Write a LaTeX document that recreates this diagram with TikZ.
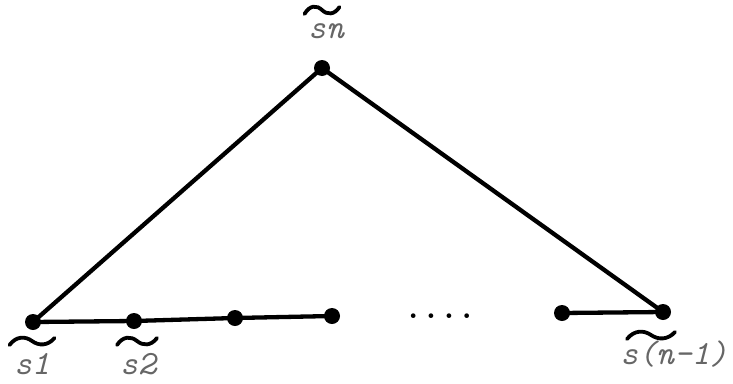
\documentclass[tikz,border=0pt]{standalone}
\usepackage{fontspec}
\begin{document}
\begin{tikzpicture}[x=1pt,y=-1pt,
  vtx/.style={circle,fill=black,inner sep=0pt,minimum size=16pt},
  edge/.style={line width=4.3pt},
  lab/.style={text=black!60,font=\ttfamily\itshape\fontsize{34}{36}\selectfont,inner sep=0pt,anchor=base},
  pics/tild/.style={code={\draw[line width=3.8pt,line cap=round] (-0.5,0.4) .. controls (-0.35,-0.5) and (-0.15,-0.5) .. (0,0) .. controls (0.15,0.5) and (0.35,0.5) .. (0.5,-0.3);}}]
\useasboundingbox (0,0) rectangle (733,383);
\node[vtx] (sn) at (322,68) {};
\node[vtx] (s1) at (33,322) {};
\node[vtx] (s2) at (134,321) {};
\node[vtx] (s3) at (235,318) {};
\node[vtx] (s4) at (332,316) {};
\node[vtx] (s5) at (562,313) {};
\node[vtx] (sm) at (663,312) {};
\draw[edge] (s1.center) -- (sn.center) -- (sm.center);
\draw[edge] (s1.center) -- (s2.center) -- (s3.center) -- (s4.center);
\draw[edge] (s5.center) -- (sm.center);
\node[text=black,font=\ttfamily\bfseries\fontsize{34}{36}\selectfont,inner sep=0pt,anchor=base] (dots) at (440,318) {....};
\node[lab] (lsn) at (326,38) {sn};
\node[lab] (ls1) at (32,374) {s1};
\node[lab] (ls2) at (138,374) {s2};
\node[lab] (lsm) at (674,364) {s(n-1)};
\pic[xscale=35,yscale=10] at (322,10) {tild};
\pic[xscale=45,yscale=10] at (32,341) {tild};
\pic[xscale=40,yscale=10] at (137,341) {tild};
\pic[xscale=48,yscale=10] at (651,335) {tild};
\end{tikzpicture}
\end{document}
